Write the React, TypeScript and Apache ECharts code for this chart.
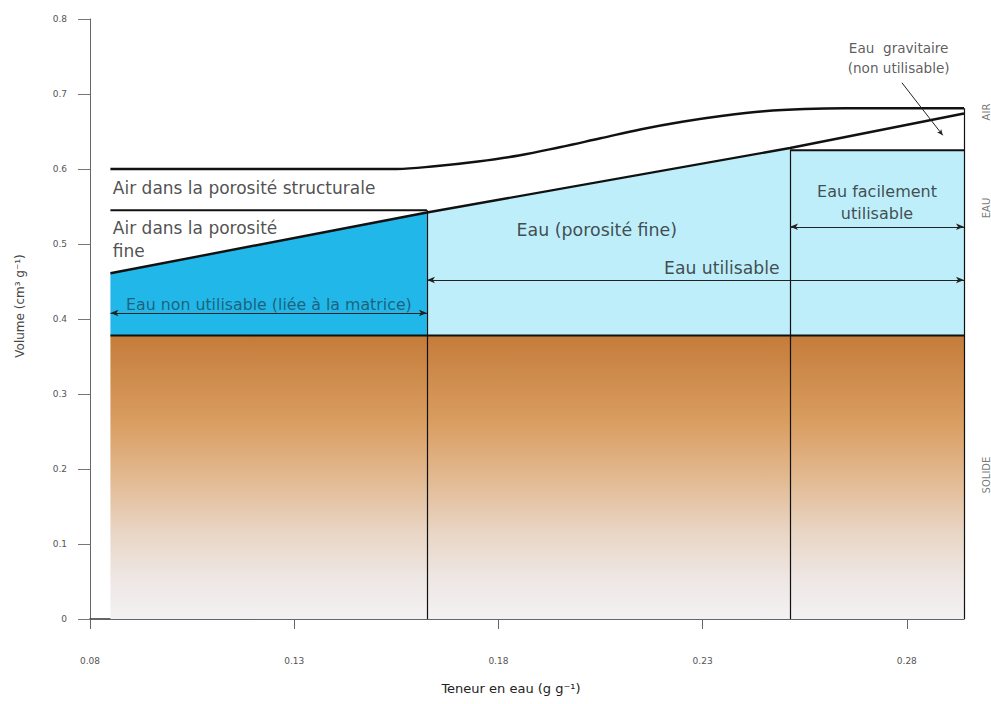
import React, { useEffect, useRef } from "react";
import * as echarts from "echarts";

// ---- axes ----
const xTicks = [0.08, 0.13, 0.18, 0.23, 0.28];
const xMin = 0.08;
const xMax = 0.294;
const yMin = 0;
const yMax = 0.8;
const yStep = 0.1;

// ---- soil limits (x = water content, g/g) ----
const soilStartX = 0.085;
const soilEndX = 0.294;
const wiltingX = 0.1625; // end of non usable water
const easyX = 0.2514; // start of easily usable water

// ---- volumes (cm3/g) ----
const solidTop = 0.378;
const fineAirTop = 0.545;
const drainedTop = 0.625;

// total porosity curve (top line)
const totalPorosityX = [0.085, 0.155, 0.165, 0.175, 0.185, 0.195, 0.205, 0.215, 0.225, 0.235, 0.245, 0.255, 0.265, 0.294];
const totalPorosityY = [0.6, 0.6, 0.604, 0.61, 0.618, 0.629, 0.641, 0.653, 0.663, 0.671, 0.677, 0.68, 0.681, 0.681];

// water volume line (diagonal)
const waterLineX = [0.085, 0.1625, 0.2514, 0.294];
const waterLineY = [0.461, 0.542, 0.628, 0.674];

// arrows levels
const arrowNonUsableY = 0.408;
const arrowUsableY = 0.452;
const arrowEasyY = 0.523;
const gravLeader = [
  [0.2788, 0.715],
  [0.2888, 0.645],
];

// ---- texts ----
const textStructural = "Air dans la porosité structurale";
const textFineAir = "Air dans la porosité\nfine";
const textNonUsable = "Eau non utilisable (liée à la matrice)";
const textFineWater = "Eau (porosité fine)";
const textUsable = "Eau utilisable";
const textEasy = "Eau facilement\nutilisable";
const textGrav = "Eau  gravitaire\n(non utilisable)";
const sideLabels = ["AIR", "EAU", "SOLIDE"];
const sideLabelY = [0.676, 0.548, 0.192];
const xName = "Teneur en eau (g g⁻¹)";
const yName = "Volume (cm³ g⁻¹)";

const FONT = "DejaVu Sans";

function zip(xs: number[], ys: number[]) {
  return xs.map((x, i) => [x, ys[i]]);
}

export default function App() {
  const ref = useRef<HTMLDivElement>(null);

  useEffect(() => {
    if (!ref.current) return;
    const chart = echarts.init(ref.current, null, { renderer: "svg" });

    const waterPts = zip(waterLineX, waterLineY);
    const darkBlue = waterPts.filter((p) => p[0] <= wiltingX);
    const lightBlue = [
      ...waterPts.filter((p) => p[0] >= wiltingX && p[0] <= easyX),
      [easyX, drainedTop],
      [soilEndX, drainedTop],
    ];

    const blackLine = (data: number[][], width = 2.4, smooth: boolean | number = false) => ({
      type: "line",
      data,
      symbol: "none",
      smooth,
      silent: true,
      z: 4,
      lineStyle: { color: "#111", width },
    });

    const label = (text: string, x: number, y: number, opts: any = {}) => ({
      value: [x, y],
      label: {
        show: true,
        formatter: text,
        position: opts.position || "inside",
        distance: 0,
        align: opts.align || "center",
        verticalAlign: "middle",
        fontFamily: FONT,
        fontSize: opts.fontSize || 14,
        lineHeight: opts.lineHeight || 22,
        color: opts.color || "#222",
        rotate: opts.rotate || 0,
      },
    });

    const option: any = {
      animation: false,
      backgroundColor: "#fff",
      grid: { left: 90, right: 27, top: 19, bottom: 85, containLabel: false },
      xAxis: {
        type: "value",
        min: xMin,
        max: xMax,
        name: xName,
        nameLocation: "middle",
        nameGap: 63,
        nameTextStyle: { fontFamily: FONT, fontSize: 13, color: "#222", padding: [0, 32, 0, 0] },
        axisLine: { show: true, lineStyle: { color: "#333", width: 1.5 } },
        axisTick: { show: true, customValues: xTicks, length: 10, lineStyle: { color: "#666" } },
        axisLabel: {
          customValues: xTicks,
          formatter: (v: number) => v.toFixed(2),
          margin: 37,
          fontFamily: FONT,
          fontSize: 9,
          color: "#555",
        },
        splitLine: { show: false },
      },
      yAxis: {
        type: "value",
        min: yMin,
        max: yMax,
        interval: yStep,
        name: yName,
        nameLocation: "middle",
        nameGap: 64,
        nameTextStyle: { fontFamily: FONT, fontSize: 12, color: "#444", padding: [0, 0, 0, 26] },
        axisLine: { show: true, lineStyle: { color: "#666", width: 1 } },
        axisTick: { show: true, length: 12, lineStyle: { color: "#777" } },
        axisLabel: {
          margin: 23,
          fontFamily: FONT,
          fontSize: 9,
          color: "#555",
          formatter: (v: number) => (v === 0 ? "0" : String(Math.round(v * 10) / 10)),
        },
        splitLine: { show: false },
      },
      series: [
        {
          type: "line",
          data: darkBlue,
          symbol: "none",
          silent: true,
          z: 1,
          lineStyle: { width: 0 },
          areaStyle: { color: "#21b7e8", opacity: 1, origin: solidTop },
        },
        {
          type: "line",
          data: lightBlue,
          symbol: "none",
          silent: true,
          z: 1,
          lineStyle: { width: 0 },
          areaStyle: { color: "#bdeefa", opacity: 1, origin: solidTop },
        },
        {
          type: "line",
          data: [
            [soilStartX, solidTop],
            [soilEndX, solidTop],
          ],
          symbol: "none",
          silent: true,
          z: 2,
          lineStyle: { color: "#111", width: 2 },
          areaStyle: {
            opacity: 1,
            color: new echarts.graphic.LinearGradient(0, 0, 0, 1, [
              { offset: 0, color: "#c47c3a" },
              { offset: 0.3, color: "#d99d60" },
              { offset: 0.5, color: "#e2b990" },
              { offset: 0.7, color: "#e9d6c6" },
              { offset: 0.86, color: "#eee7e4" },
              { offset: 1, color: "#f3f1f2" },
            ]),
          },
        },
        blackLine(zip(totalPorosityX, totalPorosityY), 2.4, 0.4),
        blackLine(waterPts, 2.4),
        blackLine(
          [
            [soilStartX, fineAirTop],
            [wiltingX, fineAirTop],
          ],
          2.2
        ),
        blackLine(
          [
            [easyX, drainedTop],
            [soilEndX, drainedTop],
          ],
          2.2
        ),
        {
          type: "line",
          data: [],
          symbol: "none",
          silent: true,
          markLine: {
            silent: true,
            animation: false,
            symbol: ["none", "none"],
            label: { show: false },
            lineStyle: { type: "solid", color: "#111", width: 1.2 },
            data: [
              [{ coord: [wiltingX, 0] }, { coord: [wiltingX, fineAirTop] }],
              [{ coord: [easyX, 0] }, { coord: [easyX, drainedTop] }],
              [{ coord: [soilEndX, 0] }, { coord: [soilEndX, totalPorosityY[totalPorosityY.length - 1]] }],
            ],
          },
        },
        {
          type: "line",
          data: [],
          symbol: "none",
          silent: true,
          markLine: {
            silent: true,
            animation: false,
            symbol: ["arrow", "arrow"],
            symbolSize: [5, 8],
            label: { show: false },
            lineStyle: { type: "solid", color: "#222", width: 1 },
            data: [
              [{ coord: [soilStartX, arrowNonUsableY] }, { coord: [wiltingX, arrowNonUsableY] }],
              [{ coord: [wiltingX, arrowUsableY] }, { coord: [soilEndX, arrowUsableY] }],
              [{ coord: [easyX, arrowEasyY] }, { coord: [soilEndX, arrowEasyY] }],
            ],
          },
        },
        {
          type: "line",
          data: [],
          symbol: "none",
          silent: true,
          markLine: {
            silent: true,
            animation: false,
            symbol: ["none", "arrow"],
            symbolSize: [4, 6],
            label: { show: false },
            lineStyle: { type: "solid", color: "#222", width: 1 },
            data: [[{ coord: gravLeader[0] }, { coord: gravLeader[1] }]],
          },
        },
        {
          type: "scatter",
          symbolSize: 0,
          silent: true,
          clip: false,
          z: 20,
          data: [
            label(textStructural, 0.0856, 0.5747, { position: "right", align: "left", fontSize: 17 }),
            label(textFineAir, 0.0856, 0.506, { position: "right", align: "left", fontSize: 17, lineHeight: 23 }),
            label(textNonUsable, 0.1238, 0.42, { fontSize: 15.8, color: "#1d4c60" }),
            label(textFineWater, 0.2041, 0.5187, { fontSize: 17.4 }),
            label(textUsable, 0.2347, 0.468, { fontSize: 17.2 }),
            label(textEasy, 0.2727, 0.555, { fontSize: 16, lineHeight: 22 }),
            label(textGrav, 0.278, 0.748, { fontSize: 13.6, lineHeight: 20, color: "#333" }),
            ...sideLabels.map((t, i) =>
              label(t, 0.2996, sideLabelY[i], { fontSize: 10, rotate: 90, color: "#555" })
            ),
          ],
        },
      ],
    };

    chart.setOption(option);
    return () => chart.dispose();
  }, []);

  return (
    <div
      ref={ref}
      style={{ position: "fixed", left: 0, top: 0, width: 991, height: 704, background: "#fff" }}
    />
  );
}
